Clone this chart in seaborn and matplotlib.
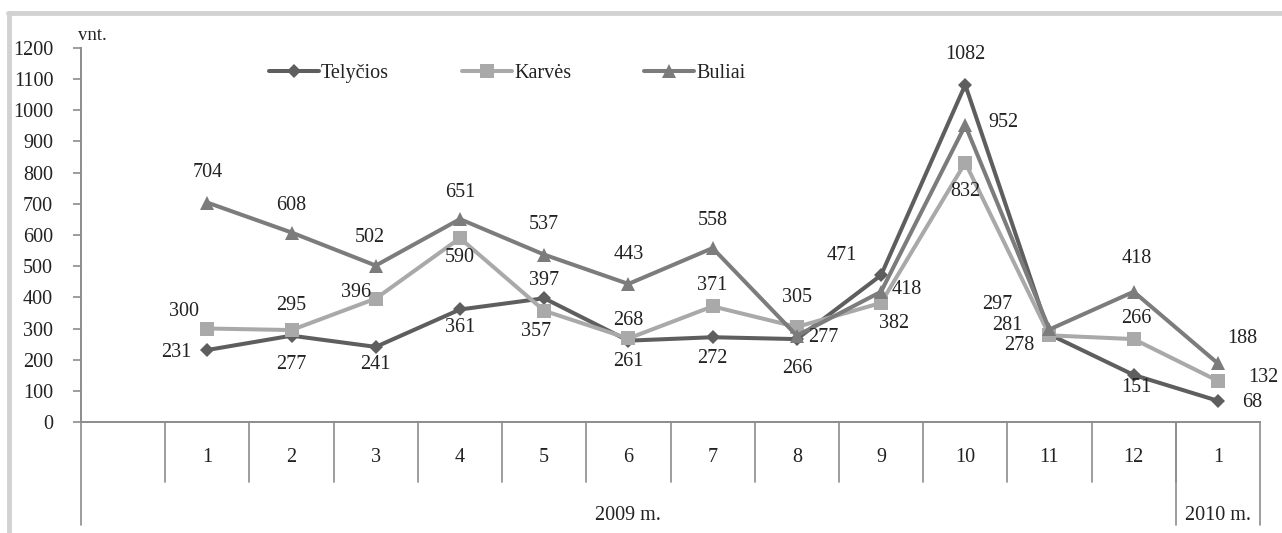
import numpy as np
import pandas as pd
import matplotlib
matplotlib.use("Agg")
import matplotlib.pyplot as plt
import matplotlib.transforms as mtransforms
from matplotlib.lines import Line2D
import seaborn as sns

# duomenys
months = ['1', '2', '3', '4', '5', '6', '7', '8', '9', '10', '11', '12', '1']
years = ['2009 m.', '2010 m.']
year_span = [12, 1]  # kiek mėnesių kiekvienais metais
series = ['Telyčios', 'Karvės', 'Buliai']
telycios = [231, 277, 241, 361, 397, 261, 272, 266, 471, 1082, 281, 151, 68]
karves = [300, 295, 396, 590, 357, 268, 371, 305, 382, 832, 278, 266, 132]
buliai = [704, 608, 502, 651, 537, 443, 558, 277, 418, 952, 297, 418, 188]

# stilius
colors = {'Telyčios': '#5e5e5e', 'Karvės': '#a9a9a9', 'Buliai': '#7c7c7c'}
markers = {'Telyčios': 'D', 'Karvės': 's', 'Buliai': '^'}
msizes = {'Telyčios': 7, 'Karvės': 10, 'Buliai': 9.5}
# reikšmių užrašų poslinkiai (px)
offsets = {
    'Telyčios': [(-31, -2), (0, -29), (0, -18), (0, -18), (0, 18), (0, -21), (0, -21),
                 (0, -29), (-39, 20), (0, 30), (-42, 9), (3, -13), (34, -2)],
    'Karvės': [(-23, 17), (0, 25), (-20, 6), (0, -19), (-8, -21), (0, 18), (0, 21),
               (0, 29), (13, -21), (0, -29), (-30, -10), (3, 21), (45, 3)],
    'Buliai': [(0, 30), (0, 27), (-6, 28), (0, 27), (0, 30), (0, 29), (0, 28),
               (26, -2), (26, 2), (38, 3), (-52, 25), (3, 33), (24, 25)],
}

sns.set_style("white")
plt.rcParams['font.family'] = ['Liberation Serif', 'DejaVu Serif']
FS = 14.5

W, H = 1282, 533
fig = plt.figure(figsize=(W / 100, H / 100), dpi=100)
ax = fig.add_axes([81 / W, (H - 422) / H, (1260 - 81) / W, 374 / H])

pos = np.arange(1, len(months) + 1)
values = {'Telyčios': telycios, 'Karvės': karves, 'Buliai': buliai}
df = pd.DataFrame({'pos': np.tile(pos, 3),
                   'value': telycios + karves + buliai,
                   'serija': np.repeat(series, len(pos))})

for name in series:
    d = df[df['serija'] == name]
    sns.lineplot(data=d, x='pos', y='value', color=colors[name], marker=markers[name],
                 markersize=msizes[name], markeredgewidth=0, linewidth=2.9,
                 label=name, ax=ax)

for name in series:
    for x, v, (dx, dy) in zip(pos, values[name], offsets[name]):
        ax.annotate(str(v), (x, v), xytext=(dx, dy), textcoords='offset pixels',
                    ha='center', va='center', fontsize=FS, color='#222222')

ax.set_xlim(-0.5, len(months) + 0.5)
ax.set_ylim(0, 1200)
ax.set_yticks(np.arange(0, 1201, 100))
ax.set_xticks([])
ax.set_xlabel('')
ax.set_ylabel('')
ax.tick_params(axis='y', length=6, width=1.2, color='#8c8c8c', pad=14,
               labelsize=FS, labelcolor='#222222', left=True)
for s in ['top', 'right']:
    ax.spines[s].set_visible(False)
for s in ['left', 'bottom']:
    ax.spines[s].set_color('#8c8c8c')
    ax.spines[s].set_linewidth(1.4)

# kategorijų lentelė po ašimi
trans = mtransforms.blended_transform_factory(ax.transData, ax.transAxes)
row1 = -60 / 374
row2 = -103 / 374
lk = dict(color='#8c8c8c', lw=1.2, transform=trans, clip_on=False)
ax.plot([-0.5, -0.5], [0, row2], **lk)
for b in np.arange(0.5, len(months)):
    ax.plot([b, b], [0, row1], **lk)
edges = np.cumsum(year_span) + 0.5
for b in edges:
    ax.plot([b, b], [0, row2], **lk)
for x, m in zip(pos, months):
    ax.text(x, -35 / 374, m, transform=trans, ha='center', va='center',
            fontsize=FS, color='#222222')
starts = np.concatenate([[-0.5], edges[:-1]])
for a, b, yl in zip(starts, edges, years):
    ax.text((a + b) / 2, -93 / 374, yl, transform=trans, ha='center', va='center',
            fontsize=FS, color='#222222')

leg = ax.legend(loc='center', bbox_to_anchor=((507 - 81) / 1179, (422 - 73) / 374),
                ncol=3, frameon=False, fontsize=FS, handlelength=2.5,
                handletextpad=0.1, columnspacing=3.6)
for t in leg.get_texts():
    t.set_color('#222222')

fig.text(78 / W, 1 - 35 / H, 'vnt.', ha='left', va='center', fontsize=FS - 1,
         color='#222222')

# rėmelis
fig.add_artist(Line2D([8 / W, 1], [1 - 13 / H, 1 - 13 / H], color='#d2d2d2', lw=3.5))
fig.add_artist(Line2D([9 / W, 9 / W], [0, 1 - 13 / H], color='#d2d2d2', lw=3.5))

fig.savefig('out.png', dpi=100)
